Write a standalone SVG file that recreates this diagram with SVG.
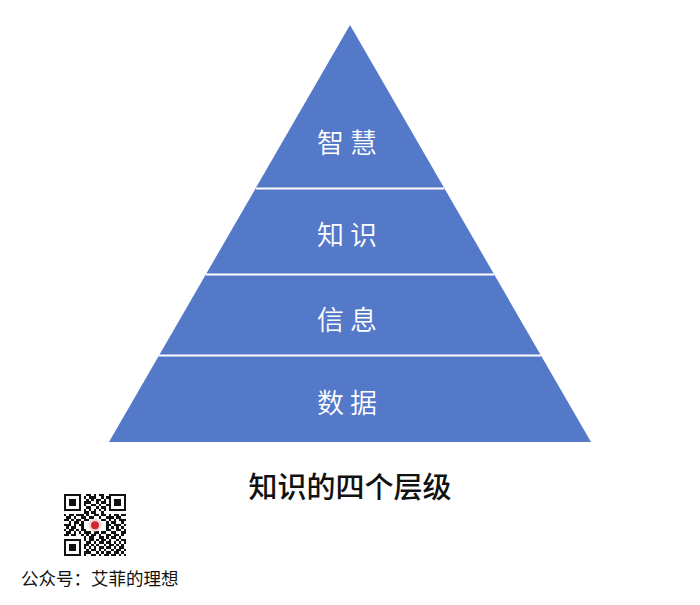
<svg xmlns="http://www.w3.org/2000/svg" width="700" height="605" viewBox="0 0 700 605">
<style>
.lbl{font-family:"Noto Sans CJK SC","Noto Sans",sans-serif;font-size:27px;fill:#ffffff;font-weight:350;letter-spacing:6px;text-anchor:middle}
.div{stroke:#ffffff;stroke-width:2}
.title{font-family:"Noto Sans CJK SC","Noto Sans",sans-serif;font-size:29px;fill:#111111;font-weight:500;text-anchor:middle}
.foot{font-family:"Noto Sans CJK SC","Noto Sans",sans-serif;font-size:17.5px;fill:#111111;text-anchor:start}
</style>
<rect width="700" height="605" fill="#ffffff"/>
<g id="pyramid">
<polygon points="350,25 109,442 591,442" fill="#5579C9"/>
</g>
<g id="connectors">
<line class="div" x1="255.8" y1="188.5" x2="444.2" y2="188.5"/>
<line class="div" x1="206" y1="274.5" x2="494" y2="274.5"/>
<line class="div" x1="159" y1="355.5" x2="541" y2="355.5"/>
</g>
<g id="wisdom"><text class="lbl" x="350" y="153">智慧</text></g>
<g id="knowledge"><text class="lbl" x="350" y="245">知识</text></g>
<g id="information"><text class="lbl" x="350" y="330">信息</text></g>
<g id="data"><text class="lbl" x="350" y="413">数据</text></g>
<g id="title"><text class="title" x="350" y="498">知识的四个层级</text></g>
<g id="qrcode" transform="translate(64,494) scale(2.48)" shape-rendering="crispEdges">
<g fill="none" stroke="#111" stroke-width="1">
<rect x="0.5" y="0.5" width="6" height="6"/>
<rect x="18.5" y="0.5" width="6" height="6"/>
<rect x="0.5" y="18.5" width="6" height="6"/>
</g>
<g fill="#111">
<rect x="2" y="2" width="3" height="3"/>
<rect x="20" y="2" width="3" height="3"/>
<rect x="2" y="20" width="3" height="3"/>
<path d="M9 0h2v1h-2zM12 0h1v1h-1zM14 0h2v1h-2z
M8 1h1v1h-1zM10 1h3v1h-3zM15 1h1v1h-1zM17 1h1v1h-1z
M9 2h1v1h-1zM11 2h1v1h-1zM13 2h2v1h-2zM16 2h1v1h-1z
M8 3h3v1h-3zM13 3h1v1h-1zM15 3h2v1h-2z
M8 4h1v1h-1zM11 4h2v1h-2zM14 4h1v1h-1zM17 4h1v1h-1z
M9 5h2v1h-2zM13 5h1v1h-1zM15 5h2v1h-2z
M8 6h1v1h-1zM10 6h1v1h-1zM12 6h1v1h-1zM14 6h1v1h-1zM16 6h1v1h-1z
M8 7h2v1h-2zM11 7h2v1h-2zM15 7h1v1h-1z
M0 8h1v1h-1zM2 8h2v1h-2zM5 8h3v1h-3zM9 8h1v1h-1zM12 8h2v1h-2zM15 8h2v1h-2zM18 8h1v1h-1zM20 8h2v1h-2zM23 8h2v1h-2z
M1 9h2v1h-2zM4 9h1v1h-1zM7 9h2v1h-2zM10 9h2v1h-2zM14 9h1v1h-1zM17 9h3v1h-3zM21 9h2v1h-2z
M0 10h2v1h-2zM3 10h1v1h-1zM5 10h2v1h-2zM8 10h2v1h-2zM15 10h2v1h-2zM18 10h1v1h-1zM20 10h1v1h-1zM22 10h3v1h-3z
M2 11h1v1h-1zM4 11h2v1h-2zM7 11h1v1h-1zM17 11h1v1h-1zM19 11h2v1h-2zM23 11h1v1h-1z
M0 12h3v1h-3zM4 12h1v1h-1zM6 12h2v1h-2zM17 12h2v1h-2zM20 12h3v1h-3zM24 12h1v1h-1z
M1 13h1v1h-1zM3 13h2v1h-2zM7 13h1v1h-1zM17 13h1v1h-1zM19 13h1v1h-1zM21 13h1v1h-1zM23 13h1v1h-1z
M0 14h1v1h-1zM2 14h2v1h-2zM5 14h1v1h-1zM7 14h2v1h-2zM17 14h2v1h-2zM21 14h2v1h-2zM24 14h1v1h-1z
M1 15h2v1h-2zM4 15h1v1h-1zM6 15h1v1h-1zM8 15h3v1h-3zM12 15h2v1h-2zM15 15h2v1h-2zM19 15h2v1h-2zM23 15h2v1h-2z
M0 16h2v1h-2zM3 16h2v1h-2zM7 16h1v1h-1zM9 16h1v1h-1zM11 16h2v1h-2zM14 16h1v1h-1zM17 16h2v1h-2zM20 16h2v1h-2zM23 16h1v1h-1z
M8 17h1v1h-1zM10 17h2v1h-2zM14 17h2v1h-2zM17 17h1v1h-1zM19 17h2v1h-2zM22 17h1v1h-1z
M8 18h1v1h-1zM10 18h2v1h-2zM13 18h1v1h-1zM15 18h2v1h-2zM18 18h1v1h-1zM21 18h1v1h-1zM23 18h2v1h-2z
M9 19h2v1h-2zM12 19h1v1h-1zM14 19h2v1h-2zM17 19h2v1h-2zM20 19h1v1h-1zM22 19h1v1h-1zM24 19h1v1h-1z
M8 20h2v1h-2zM11 20h1v1h-1zM13 20h1v1h-1zM16 20h1v1h-1zM18 20h2v1h-2zM21 20h1v1h-1zM23 20h1v1h-1z
M8 21h1v1h-1zM10 21h1v1h-1zM12 21h1v1h-1zM14 21h2v1h-2zM17 21h2v1h-2zM20 21h1v1h-1zM22 21h2v1h-2z
M9 22h1v1h-1zM11 22h2v1h-2zM14 22h1v1h-1zM16 22h1v1h-1zM19 22h1v1h-1zM21 22h2v1h-2zM24 22h1v1h-1z
M8 23h3v1h-3zM13 23h1v1h-1zM15 23h1v1h-1zM17 23h2v1h-2zM20 23h2v1h-2zM23 23h1v1h-1z
M8 24h1v1h-1zM11 24h2v1h-2zM14 24h1v1h-1zM16 24h2v1h-2zM19 24h2v1h-2zM22 24h1v1h-1zM24 24h1v1h-1z"/>
</g>
<circle cx="12.5" cy="12.5" r="2.6" fill="#f3d6d6" shape-rendering="auto"/>
<circle cx="12.5" cy="12.6" r="1.6" fill="#d22630" shape-rendering="auto"/>
</g>
<g id="footer"><text class="foot" x="21" y="585">公众号：艾菲的理想</text></g>
</svg>
